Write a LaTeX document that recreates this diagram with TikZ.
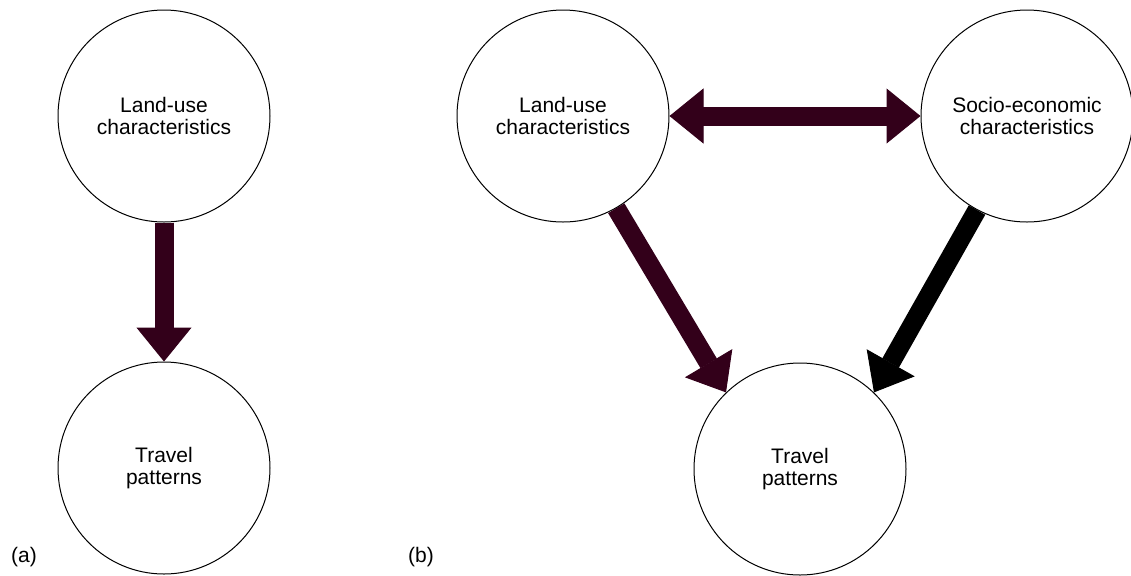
\documentclass[tikz,border=0pt]{standalone}
\usepackage{fontspec}
\setmainfont{Liberation Sans}
\usepackage{tikz}
\usetikzlibrary{arrows.meta}
\definecolor{darkplum}{HTML}{33001A}
\tikzset{fathead/.tip={Triangle[width=27.5pt,length=17pt,line width=0.5pt]}}

\begin{document}
\begin{tikzpicture}[x=0.5pt,y=-0.5pt,
	bubble/.style={circle,draw,line width=0.5pt,minimum size=106pt,inner sep=0pt,align=center,font=\fontsize{10.5}{11}\selectfont},
	fat/.style={line width=9.5pt},
	tag/.style={font=\fontsize{10.5}{11}\selectfont}]
\useasboundingbox (0,0) rectangle (1131,575);
% (a)
\node (lua) [bubble] at (164,116) {Land-use\\characteristics};
\node (tpa) [bubble] at (164,468) {Travel\\patterns};
\draw [fat,darkplum,-fathead] (lua) -- (tpa);
\node (taga) [tag] at (24,557) {(a)};
% (b)
\node (lub) [bubble] at (563,116) {Land-use\\characteristics};
\node (se) [bubble] at (1027,116) {Socio-economic\\characteristics};
\node (tpb) [bubble] at (800,469) {Travel\\patterns};
\draw [fat,darkplum,fathead-fathead] (lub.east) -- (se.west);
\draw [fat,darkplum,-fathead] (lub.-60) -- (tpb.134);
\draw [fat,black,-fathead] (se.-118) -- (tpb.46);
\node (tagb) [tag] at (421,557) {(b)};
\end{tikzpicture}
\end{document}
